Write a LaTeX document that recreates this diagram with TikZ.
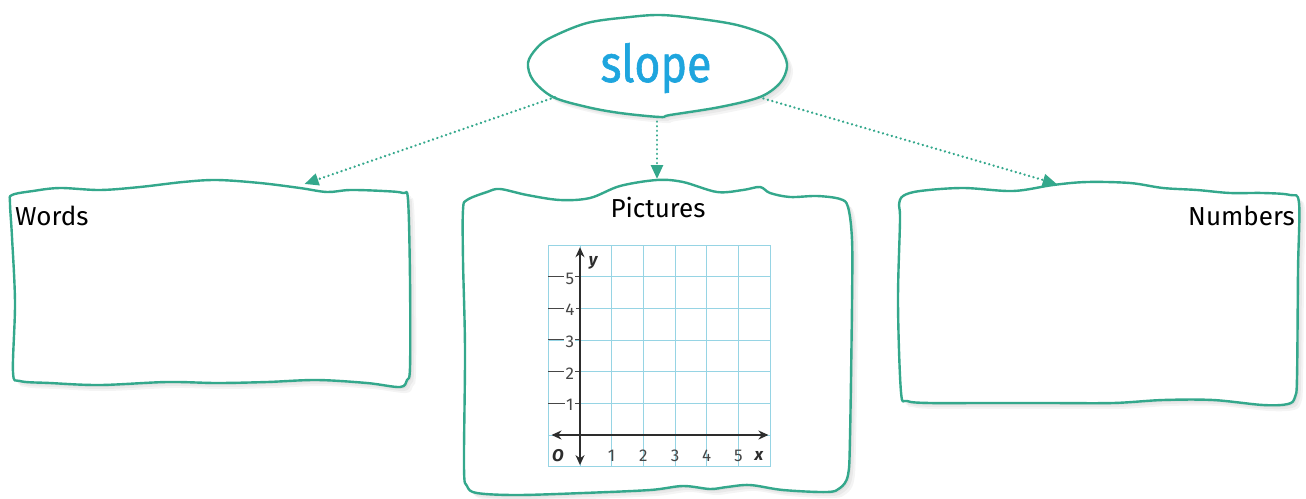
\documentclass[tikz,border=0pt]{standalone}
\usepackage{fontspec}
\setmainfont{Fira Sans}
\newfontfamily\slopefont[FakeBold=1.2]{Fira Sans}
\usetikzlibrary{shapes.geometric,arrows.meta,calc}
\definecolor{mteal}{RGB}{52,168,140}
\definecolor{gridblue}{RGB}{150,212,228}
\definecolor{slopeblue}{RGB}{30,165,222}
\definecolor{axisgray}{RGB}{45,45,45}
\definecolor{labelgray}{RGB}{70,70,70}
\def\wordsshape{plot[smooth cycle, tension=0.55] coordinates {(10,203) (12,195) (33,191) (60,188) (100,190) (140,187) (183,182) (217,180) (260,183) (300,188) (327,192) (350,190) (383,191) (403,193) (408,200) (410,280) (410,367) (407,380) (400,387) (367,383) (317,380) (267,382) (217,383) (167,382) (100,385) (50,383) (20,381) (13,372) (15,303) (12,237)}}
\def\picsshape{plot[smooth cycle, tension=0.55] coordinates {(463,210) (467,200) (487,192) (500,189) (527,195) (560,200) (590,198) (620,186) (657,180) (683,182) (717,192) (743,190) (760,187) (770,193) (790,197) (817,196) (840,199) (848,207) (852,240) (852,303) (850,437) (848,475) (840,488) (827,492) (783,490) (750,485) (727,487) (710,489) (683,486) (650,490) (583,493) (517,495) (477,493) (467,486) (464,467) (465,350) (463,260)}}
\def\numsshape{plot[smooth cycle, tension=0.55] coordinates {(899,205) (903,196) (920,191) (963,188) (1013,191) (1053,185) (1087,182) (1130,183) (1163,188) (1197,190) (1230,193) (1263,193) (1290,195) (1299,203) (1298,270) (1297,377) (1295,397) (1288,404) (1263,405) (1213,400) (1163,400) (1113,403) (1047,403) (980,403) (930,403) (907,401) (901,392) (898,303) (900,220)}}
\def\slopeshape{plot[smooth cycle, tension=0.55] coordinates {(528,63) (536,49) (550,38) (587,23) (630,17) (660,15) (693,18) (737,25) (770,37) (783,53) (787,67) (780,83) (760,97) (720,107) (670,115) (660,117) (620,113) (587,107) (553,97) (533,80)}}
\begin{document}
\begin{tikzpicture}[x=1pt,y=-1pt,
  outline/.style={draw=mteal, line width=2.4pt, fill=white, line join=round},
  shadowlayer/.style={fill=black, opacity=0.045},
  anchorbox/.style={draw=none, inner sep=0pt, outer sep=0pt},
  conn/.style={draw=mteal, line width=2.6pt, line cap=round, dash pattern=on 0.01pt off 4.6pt,
    -{Triangle[length=14pt,width=12pt]}},
  hand/.style={font=\fontsize{26}{26}\selectfont, text=black, inner sep=0pt},
  gridline/.style={draw=gridblue, line width=0.9pt},
  axisline/.style={draw=axisgray, line width=2.4pt, {Stealth[length=10pt,width=9pt]}-{Stealth[length=10pt,width=9pt]}},
  tick/.style={draw=labelgray, line width=1pt},
  numlab/.style={font=\fontsize{17}{17}\selectfont, text=labelgray, inner sep=1.2pt},
  varlab/.style={font=\fontsize{17}{17}\selectfont\bfseries\itshape, text=axisgray, inner sep=0pt}
]
\useasboundingbox (0,0) rectangle (1306,498);

% invisible anchor nodes for the shapes
\node[anchorbox, anchor=north west, minimum width=398pt, minimum height=204pt] (words) at (12,184) {};
\node[anchorbox, anchor=north, minimum width=390pt, minimum height=312pt] (pics) at (657,181) {};
\node[anchorbox, anchor=north west, minimum width=402pt, minimum height=220pt] (nums) at (898,184) {};
\node[anchorbox, ellipse, minimum width=258pt, minimum height=102pt] (slope) at (657,66) {};

% soft shadows
\foreach \s in {2,4,6} {
  \fill[shadowlayer, xshift=\s pt, yshift=-\s pt] \wordsshape;
  \fill[shadowlayer, xshift=\s pt, yshift=-\s pt] \picsshape;
  \fill[shadowlayer, xshift=\s pt, yshift=-\s pt] \numsshape;
  \fill[shadowlayer, xshift=\s pt, yshift=-\s pt] \slopeshape;
}

% hand-drawn outlines
\draw[outline] \wordsshape;
\draw[outline] \picsshape;
\draw[outline] \numsshape;
\draw[outline] \slopeshape;

% texts
\node[inner sep=0pt, anchor=base, text=slopeblue, xscale=0.86,
  font=\fontsize{52}{52}\slopefont] (slopetext) at (656,82) {slope};
\node[hand, anchor=base west] (wordslab) at (15,225) {Words};
\node[hand, anchor=base] (picslab) at (658,217) {Pictures};
\node[hand, anchor=base east] (numslab) at (1295,225) {Numbers};

% connectors
\draw[conn] (slope.197) -- ($(words.north west)!0.735!(words.north east)$);
\draw[conn, shorten >=2pt] (slope.south) -- (pics.north);
\draw[conn] (slope.-17) -- ($(nums.north west)!0.395!(nums.north east)$);

% coordinate grid
\begin{scope}[shift={(580,435)}, x=31.67pt, y=31.67pt]
  \fill[white] (-1,-1) rectangle (6,6);
  \foreach \i in {-1,...,6} \draw[gridline] (\i,-1) -- (\i,6);
  \foreach \j in {-1,...,6} \draw[gridline] (-1,\j) -- (6,\j);
  \foreach \j in {1,...,5} {
    \draw[tick] (-1,\j) -- (0,\j);
    \node[numlab, fill=white] (yl\j) at (-0.32,\j-0.06) {\j};
  }
  \foreach \i in {1,...,5} \node[numlab] (xl\i) at (\i,-0.66) {\i};
  \draw[axisline] (-0.9,0) -- (5.95,0);
  \draw[axisline] (0,-0.95) -- (0,5.93);
  \node[varlab] (olab) at (-0.7,-0.66) {O};
  \node[varlab] (xlab) at (5.65,-0.66) {x};
  \node[varlab] (ylab) at (0.42,5.45) {y};
\end{scope}
\end{tikzpicture}
\end{document}
